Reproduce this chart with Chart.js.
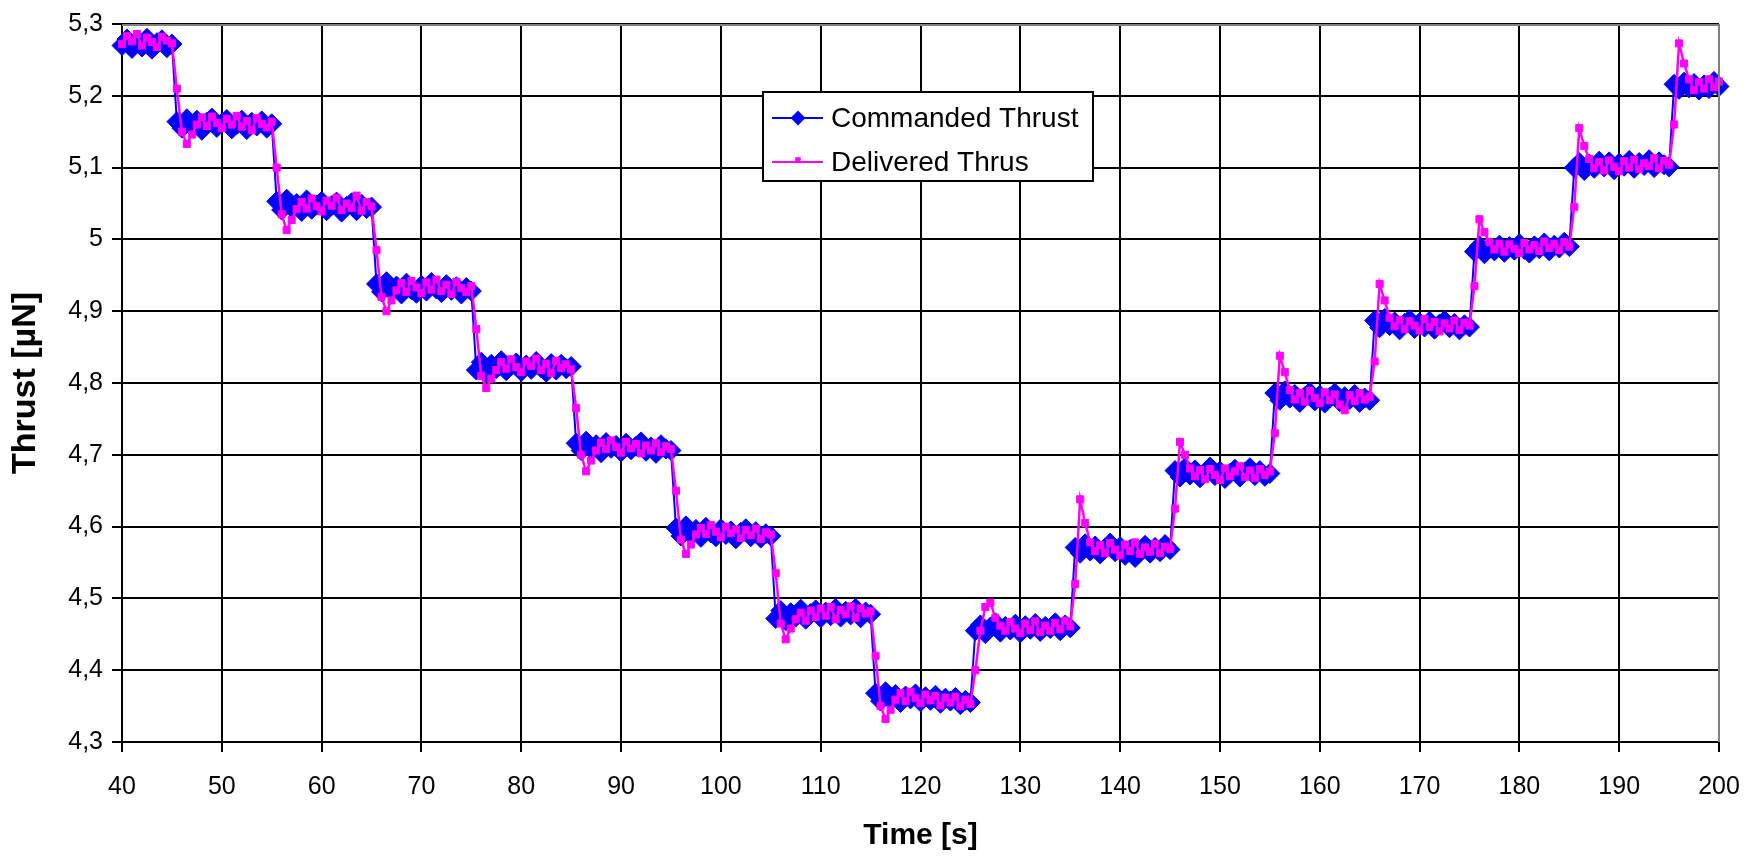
<!DOCTYPE html>
<html><head><meta charset="utf-8">
<script src="https://cdn.jsdelivr.net/npm/chart.js@4.4.1/dist/chart.umd.min.js"></script>
<style>html,body{margin:0;padding:0;background:#fff;overflow:hidden}canvas{display:block}</style>
</head><body>
<canvas id="c" width="1760" height="857"></canvas>
<script>
const timeS = [
40,40.5,41,41.5,42,42.5,43,43.5,44,44.5,45,
45.5,46,46.5,47,47.5,48,48.5,49,49.5,50,50.5,51,51.5,52,52.5,53,53.5,54,54.5,55,
55.5,56,56.5,57,57.5,58,58.5,59,59.5,60,60.5,61,61.5,62,62.5,63,63.5,64,64.5,65,
65.5,66,66.5,67,67.5,68,68.5,69,69.5,70,70.5,71,71.5,72,72.5,73,73.5,74,74.5,75,
75.5,76,76.5,77,77.5,78,78.5,79,79.5,80,80.5,81,81.5,82,82.5,83,83.5,84,84.5,85,
85.5,86,86.5,87,87.5,88,88.5,89,89.5,90,90.5,91,91.5,92,92.5,93,93.5,94,94.5,95,
95.5,96,96.5,97,97.5,98,98.5,99,99.5,100,100.5,101,101.5,102,102.5,103,103.5,104,104.5,105,
105.5,106,106.5,107,107.5,108,108.5,109,109.5,110,110.5,111,111.5,112,112.5,113,113.5,114,114.5,115,
115.5,116,116.5,117,117.5,118,118.5,119,119.5,120,120.5,121,121.5,122,122.5,123,123.5,124,124.5,125,
125.5,126,126.5,127,127.5,128,128.5,129,129.5,130,130.5,131,131.5,132,132.5,133,133.5,134,134.5,135,
135.5,136,136.5,137,137.5,138,138.5,139,139.5,140,140.5,141,141.5,142,142.5,143,143.5,144,144.5,145,
145.5,146,146.5,147,147.5,148,148.5,149,149.5,150,150.5,151,151.5,152,152.5,153,153.5,154,154.5,155,
155.5,156,156.5,157,157.5,158,158.5,159,159.5,160,160.5,161,161.5,162,162.5,163,163.5,164,164.5,165,
165.5,166,166.5,167,167.5,168,168.5,169,169.5,170,170.5,171,171.5,172,172.5,173,173.5,174,174.5,175,
175.5,176,176.5,177,177.5,178,178.5,179,179.5,180,180.5,181,181.5,182,182.5,183,183.5,184,184.5,185,
185.5,186,186.5,187,187.5,188,188.5,189,189.5,190,190.5,191,191.5,192,192.5,193,193.5,194,194.5,195,
195.5,196,196.5,197,197.5,198,198.5,199,199.5,200
];
const commandedThrust = [
5.270,5.279,5.266,5.276,5.268,5.280,5.265,5.274,5.278,5.267,5.272,
5.164,5.155,5.168,5.157,5.166,5.152,5.163,5.169,5.156,5.162,5.167,5.154,5.160,5.166,5.153,5.163,5.158,5.165,5.155,5.161,
5.053,5.041,5.056,5.044,5.050,5.039,5.055,5.042,5.048,5.053,5.040,5.047,5.052,5.038,5.046,5.051,5.040,5.049,5.043,5.045,
4.938,4.927,4.941,4.929,4.935,4.924,4.939,4.930,4.925,4.936,4.928,4.940,4.931,4.926,4.937,4.929,4.934,4.924,4.933,4.928,
4.818,4.829,4.815,4.826,4.820,4.831,4.817,4.824,4.828,4.816,4.825,4.819,4.830,4.821,4.815,4.827,4.818,4.826,4.820,4.823,
4.716,4.706,4.719,4.708,4.714,4.703,4.717,4.709,4.713,4.704,4.716,4.707,4.712,4.718,4.705,4.711,4.702,4.714,4.708,4.706,
4.598,4.587,4.601,4.590,4.596,4.585,4.599,4.591,4.586,4.597,4.589,4.594,4.583,4.592,4.597,4.586,4.593,4.584,4.590,4.587,
4.472,4.483,4.469,4.480,4.474,4.485,4.471,4.479,4.484,4.473,4.481,4.476,4.486,4.474,4.482,4.477,4.486,4.473,4.481,4.478,
4.368,4.357,4.370,4.359,4.366,4.355,4.364,4.360,4.367,4.356,4.363,4.358,4.365,4.354,4.361,4.357,4.362,4.352,4.358,4.355,
4.455,4.463,4.451,4.460,4.466,4.453,4.461,4.456,4.464,4.452,4.462,4.457,4.465,4.454,4.461,4.458,4.466,4.455,4.463,4.459,
4.571,4.563,4.576,4.566,4.573,4.562,4.570,4.577,4.565,4.572,4.560,4.568,4.557,4.566,4.574,4.563,4.571,4.565,4.575,4.568,
4.678,4.669,4.682,4.672,4.679,4.668,4.676,4.683,4.671,4.677,4.667,4.674,4.680,4.669,4.676,4.682,4.671,4.678,4.670,4.674,
4.786,4.776,4.789,4.779,4.784,4.773,4.781,4.787,4.775,4.783,4.772,4.780,4.786,4.774,4.781,4.777,4.784,4.773,4.779,4.776,
4.887,4.877,4.890,4.880,4.885,4.874,4.883,4.888,4.876,4.884,4.878,4.886,4.875,4.882,4.887,4.877,4.883,4.874,4.881,4.878,
4.983,4.991,4.980,4.988,4.984,4.992,4.982,4.990,4.985,4.994,4.986,4.981,4.991,4.987,4.995,4.984,4.992,4.988,4.996,4.990,
5.100,5.107,5.096,5.105,5.099,5.109,5.101,5.108,5.097,5.106,5.102,5.110,5.099,5.107,5.103,5.111,5.100,5.108,5.104,5.101,
5.216,5.209,5.219,5.211,5.217,5.208,5.215,5.210,5.220,5.213
];
const deliveredThrust = [
5.272,5.283,5.276,5.286,5.270,5.281,5.275,5.268,5.282,5.277,5.273,
5.210,5.150,5.133,5.146,5.160,5.170,5.158,5.171,5.162,5.155,5.168,5.160,5.172,5.157,5.165,5.152,5.169,5.161,5.156,5.164,
5.100,5.035,5.013,5.027,5.042,5.052,5.043,5.057,5.046,5.039,5.054,5.047,5.058,5.041,5.050,5.044,5.061,5.040,5.052,5.046,
4.985,4.920,4.900,4.915,4.929,4.939,4.927,4.942,4.933,4.925,4.940,4.930,4.944,4.928,4.937,4.924,4.941,4.932,4.927,4.935,
4.875,4.810,4.793,4.806,4.818,4.829,4.820,4.833,4.822,4.815,4.830,4.824,4.834,4.818,4.827,4.814,4.831,4.821,4.826,4.819,
4.765,4.700,4.677,4.692,4.706,4.717,4.708,4.720,4.711,4.703,4.718,4.709,4.715,4.702,4.713,4.706,4.716,4.704,4.712,4.708,
4.650,4.582,4.562,4.575,4.589,4.598,4.590,4.602,4.593,4.585,4.600,4.591,4.596,4.584,4.595,4.588,4.597,4.583,4.592,4.589,
4.535,4.465,4.443,4.458,4.471,4.480,4.469,4.483,4.474,4.486,4.476,4.488,4.471,4.484,4.478,4.489,4.473,4.486,4.479,4.482,
4.420,4.350,4.332,4.345,4.359,4.368,4.357,4.370,4.361,4.354,4.366,4.358,4.364,4.351,4.362,4.355,4.363,4.350,4.359,4.353,
4.400,4.455,4.488,4.494,4.473,4.462,4.455,4.467,4.458,4.452,4.465,4.456,4.468,4.453,4.462,4.455,4.466,4.457,4.469,4.461,
4.520,4.638,4.605,4.578,4.566,4.574,4.563,4.577,4.568,4.560,4.575,4.566,4.578,4.562,4.571,4.565,4.576,4.563,4.572,4.569,
4.625,4.718,4.700,4.681,4.670,4.679,4.666,4.680,4.672,4.665,4.681,4.670,4.677,4.684,4.669,4.678,4.668,4.680,4.672,4.677,
4.730,4.838,4.815,4.790,4.777,4.786,4.774,4.789,4.779,4.772,4.787,4.776,4.784,4.770,4.762,4.783,4.775,4.786,4.777,4.781,
4.830,4.938,4.915,4.891,4.879,4.888,4.875,4.886,4.880,4.873,4.889,4.878,4.885,4.872,4.883,4.876,4.887,4.874,4.884,4.880,
4.935,5.028,5.010,4.996,4.986,4.994,4.983,4.993,4.987,4.981,4.995,4.986,4.992,4.984,4.997,4.988,4.994,4.985,4.996,4.990,
5.045,5.155,5.130,5.112,5.099,5.108,5.096,5.110,5.101,5.095,5.109,5.100,5.111,5.098,5.106,5.102,5.113,5.099,5.109,5.104,
5.160,5.273,5.245,5.223,5.208,5.219,5.210,5.223,5.212,5.220
];
const seriesNames = ['Commanded Thrust', 'Delivered Thrus'];
const xTickValues = [40,50,60,70,80,90,100,110,120,130,140,150,160,170,180,190,200];
const xTickLabels = ['40','50','60','70','80','90','100','110','120','130','140','150','160','170','180','190','200'];
const yTickValues = [4.3,4.4,4.5,4.6,4.7,4.8,4.9,5.0,5.1,5.2,5.3];
const yTickLabels = ['4,3','4,4','4,5','4,6','4,7','4,8','4,9','5','5,1','5,2','5,3'];
const xTitle = 'Time [s]';
const yTitle = 'Thrust [µN]';

const FONT = "'Liberation Sans', Arial, sans-serif";
const BLUE = '#0000FF', MAG = '#FF00FF';

const pairs = (ys) => ys.map((y, i) => ({x: timeS[i], y: y}));

const framePlugin = {
  id: 'frameLegend',
  afterDraw(chart) {
    const ctx = chart.ctx, a = chart.chartArea;
    ctx.save();
    ctx.strokeStyle = '#808080';
    ctx.lineWidth = 2;
    ctx.beginPath();
    ctx.moveTo(a.left, a.top + 1); ctx.lineTo(a.right + 1, a.top + 1);
    ctx.moveTo(a.right, a.top); ctx.lineTo(a.right, a.bottom);
    ctx.stroke();
    // legend box
    const bx = 763, by = 92, bw = 330, bh = 89;
    ctx.fillStyle = '#fff';
    ctx.fillRect(bx, by, bw, bh);
    ctx.strokeStyle = '#000';
    ctx.lineWidth = 2;
    ctx.strokeRect(bx, by, bw, bh);
    const rows = [
      {y: by + 26, color: BLUE, style: 'rectRot', r: 6},
      {y: by + 70, color: MAG, style: 'rect', r: 2.5}
    ];
    rows.forEach((row, i) => {
      ctx.strokeStyle = row.color; ctx.lineWidth = 2;
      ctx.beginPath(); ctx.moveTo(bx + 9, row.y); ctx.lineTo(bx + 60, row.y); ctx.stroke();
      ctx.fillStyle = row.color;
      Chart.helpers.drawPoint(ctx, {pointStyle: row.style, radius: row.r, borderWidth: 1}, bx + 35, row.y - (i === 1 ? 2 : 0));
      ctx.fillStyle = '#000';
      ctx.font = '28px ' + FONT;
      ctx.textBaseline = 'middle';
      ctx.textAlign = 'left';
      ctx.fillText(seriesNames[i], bx + 68, row.y + 1);
    });
    ctx.restore();
  }
};

new Chart(document.getElementById('c'), {
  type: 'line',
  data: {
    datasets: [
      {
        label: seriesNames[0], data: pairs(commandedThrust),
        borderColor: BLUE, backgroundColor: BLUE, borderWidth: 2,
        pointStyle: 'rectRot', pointRadius: 10, pointBorderWidth: 1,
        pointBorderColor: BLUE, pointBackgroundColor: BLUE,
        tension: 0, order: 2, clip: false
      },
      {
        label: seriesNames[1], data: pairs(deliveredThrust),
        borderColor: MAG, backgroundColor: MAG, borderWidth: 2.5,
        pointStyle: 'rect', pointRadius: 5, pointBorderWidth: 1,
        pointBorderColor: MAG, pointBackgroundColor: MAG,
        tension: 0, order: 1, clip: false
      }
    ]
  },
  options: {
    responsive: false, animation: false, devicePixelRatio: 1,
    layout: {padding: {left: 0, top: 16, right: 41, bottom: 0}},
    plugins: {legend: {display: false}, tooltip: {enabled: false}},
    scales: {
      x: {
        type: 'linear', min: 40, max: 200,
        afterBuildTicks: (s) => { s.ticks = xTickValues.map(v => ({value: v})); },
        afterFit: (s) => { s.height = 115; },
        ticks: {
          callback: (v, i) => xTickLabels[i],
          color: '#000', font: {family: FONT, size: 25}, padding: 20, maxRotation: 0
        },
        grid: {color: '#000', lineWidth: 2, tickLength: 10, tickColor: '#000', tickWidth: 2},
        border: {color: '#000', width: 2},
        title: {display: true, text: xTitle, color: '#000', font: {family: FONT, size: 30, weight: 'bold'}, padding: {top: 0, bottom: 3}}
      },
      y: {
        type: 'linear', min: 4.3, max: 5.3,
        afterBuildTicks: (s) => { s.ticks = yTickValues.map(v => ({value: v})); },
        afterFit: (s) => { s.width = 122; },
        ticks: {
          callback: (v, i) => yTickLabels[i],
          color: '#000', font: {family: FONT, size: 25}, padding: 9
        },
        grid: {color: '#000', lineWidth: 2, tickLength: 10, tickColor: '#000', tickWidth: 2},
        border: {color: '#000', width: 2},
        title: {display: true, text: yTitle, color: '#000', font: {family: FONT, size: 34, weight: 'bold'}, padding: {top: 5, bottom: 0}}
      }
    }
  },
  plugins: [framePlugin]
});
</script>
</body></html>
